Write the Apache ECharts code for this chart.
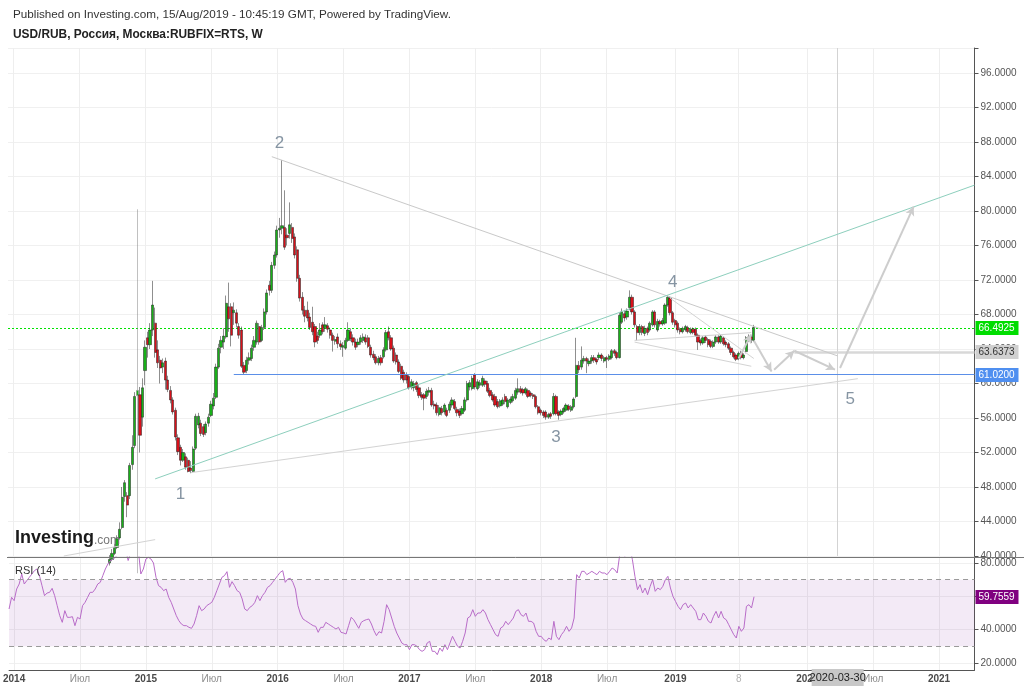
<!DOCTYPE html>
<html><head><meta charset="utf-8">
<script src="https://cdn.jsdelivr.net/npm/echarts@6/dist/echarts.min.js"></script>
<style>html,body{margin:0;padding:0;background:#fff}#c{width:1024px;height:690px}</style>
</head><body><div id="c"></div>
<script>
// ---------- categories (weekly bars, Monday dates) ----------
const START_UTC = Date.UTC(2013, 11, 23);
const WEEKS = 382;
const cats = [];
for (let k = 0; k < WEEKS; k++) cats.push(new Date(START_UTC + k * 7 * 864e5).toISOString().slice(0, 10));

// ---------- tick labels ----------
const tickDates = ['2014-01-06','2014-07-07','2015-01-05','2015-07-06','2016-01-04','2016-07-04','2017-01-02','2017-07-03','2018-01-01','2018-07-02','2019-01-07','2019-07-01','2020-01-06','2020-07-06','2021-01-04'];
const tickLabels = ['2014','Июл','2015','Июл','2016','Июл','2017','Июл','2018','Июл','2019','8','2020','Июл','2021'];
const priceStep = 4;
const rsiTicks = [20, 40, 60, 80];

// ---------- weekly candles, first bar = week index 40 (2014-09-29) ----------
const FIRST_BAR = 40;
const opens = [
 39.2,39.6,40.3,41.0,42.1,43.3,46.9,47.0,47.0,50.6,
 52.8,58.6,58.7,56.1,61.5,65.3,64.5,66.2,67.0,63.9,
 62.7,61.9,62.6,60.4,59.2,58.1,56.9,53.7,52.6,51.1,
 51.5,51.1,50.2,49.8,52.5,55.2,55.4,55.0,54.3,55.4,
 56.3,57.4,58.4,61.9,64.2,64.8,65.4,68.9,68.9,68.2,
 68.2,66.6,66.2,62.1,61.5,62.7,62.9,64.2,64.8,66.6,
 65.0,66.5,68.3,71.4,70.8,73.7,74.9,77.8,78.0,78.1,
 77.2,77.4,78.1,77.0,75.5,72.2,70.0,68.5,68.5,67.7,
 67.1,66.6,65.5,65.6,66.8,66.5,66.7,66.2,65.6,64.9,
 65.4,64.6,64.2,64.1,65.0,66.0,65.3,64.8,64.5,64.8,
 65.0,65.3,65.3,64.2,63.4,63.1,62.4,63.0,63.1,63.9,
 66.0,65.3,64.1,63.3,62.5,62.0,61.3,61.0,60.8,59.6,
 59.5,60.1,59.5,58.7,58.7,58.5,59.0,59.2,57.6,57.5,
 56.4,57.1,56.7,56.9,56.9,57.5,57.9,57.0,56.8,56.5,
 56.9,58.1,59.6,59.4,61.0,59.4,59.8,59.8,60.3,60.0,
 59.2,58.7,58.5,57.9,57.4,57.6,58.5,57.3,57.8,58.0,
 58.3,59.0,59.4,59.3,58.9,59.2,58.9,58.7,58.5,57.3,
 56.9,56.7,56.7,56.1,56.5,56.5,58.5,56.7,56.4,56.7,
 56.9,57.4,56.9,57.3,58.5,62.1,61.9,62.6,62.9,62.3,
 62.6,63.0,62.8,63.0,63.3,62.6,63.0,62.8,63.0,63.8,
 63.6,63.0,67.1,68.1,67.7,68.8,70.0,68.3,66.6,65.9,
 66.6,65.8,66.4,66.2,66.8,68.3,66.2,67.2,66.9,67.0,
 69.1,69.9,68.2,67.3,67.0,66.3,66.0,66.2,66.5,65.9,
 66.3,66.3,65.6,65.0,64.7,65.4,65.1,64.9,64.3,64.8,
 65.4,64.8,65.3,64.8,64.6,64.1,63.6,63.3,62.9,63.6,
 63.0,63.7,65.1,65.4,65.0
];
const closes = [
 39.6,40.3,41.0,42.0,43.1,46.8,48.5,45.9,50.5,52.6,
 58.5,59.2,54.0,59.5,64.2,64.5,66.2,69.1,63.6,62.4,
 61.8,62.4,60.4,59.3,58.1,56.7,53.8,52.1,51.1,52.0,
 50.3,49.8,49.9,52.4,56.2,56.2,54.2,54.1,55.3,56.1,
 57.6,58.3,61.9,64.1,65.0,65.5,69.3,67.5,65.6,68.5,
 67.0,65.6,62.0,61.3,62.7,63.0,64.1,65.0,67.0,64.8,
 66.5,68.3,70.5,70.8,73.7,74.9,77.8,78.0,78.3,75.8,
 76.9,78.4,76.8,74.9,72.2,69.9,68.5,67.8,67.6,66.5,
 66.0,64.8,65.0,66.2,66.0,66.8,66.3,65.6,65.0,65.1,
 64.6,64.3,64.4,65.0,66.2,65.2,64.8,64.2,64.8,65.3,
 65.4,64.8,64.3,63.3,63.0,62.4,62.9,62.4,63.9,65.9,
 65.3,64.0,62.6,62.5,61.4,60.6,60.4,60.4,59.5,60.2,
 60.0,59.3,58.6,58.4,58.3,59.1,59.2,57.5,57.4,56.6,
 57.2,56.6,57.5,56.3,57.6,58.1,57.1,56.6,56.3,57.1,
 58.1,60.0,60.1,60.6,59.6,60.2,60.1,60.6,59.9,59.1,
 58.6,58.1,57.5,57.3,58.0,58.1,57.9,58.1,58.2,58.5,
 59.2,59.4,59.0,58.9,59.4,58.5,58.6,58.5,57.3,56.6,
 56.6,56.3,56.1,56.4,56.2,58.5,56.5,56.3,56.8,57.1,
 57.5,57.0,57.3,58.2,62.1,61.6,62.7,62.9,62.6,62.6,
 63.0,62.7,62.5,63.3,62.9,63.0,62.8,63.2,63.8,63.5,
 63.0,67.9,68.3,67.6,68.4,70.0,68.3,66.8,65.9,66.6,
 65.9,66.4,65.9,67.0,68.3,66.8,67.2,66.9,67.3,69.1,
 70.0,68.2,67.1,66.8,66.2,66.0,66.4,66.6,66.0,66.3,
 65.9,65.6,64.8,64.7,65.3,65.0,64.5,64.3,64.8,65.4,
 64.8,65.5,64.6,64.5,64.1,63.6,63.1,62.8,63.5,63.0,
 63.3,65.3,65.4,65.1,66.4925
];
const lows = [
 38.9,39.4,40.1,40.8,41.9,43.1,46.3,44.5,46.6,50.0,
 52.5,38.0,52.0,55.0,59.8,63.0,64.0,65.5,63.0,61.8,
 60.0,61.2,59.3,59.0,57.7,56.4,53.4,51.7,50.5,50.9,
 50.0,49.7,49.6,49.7,52.3,54.8,53.9,53.8,54.0,55.0,
 56.1,57.0,58.2,61.7,63.5,64.0,65.2,66.0,64.3,66.8,
 66.5,65.2,61.8,61.1,61.2,62.2,62.6,63.8,64.5,64.5,
 64.8,66.2,68.0,70.2,70.5,73.3,74.6,76.9,77.3,75.5,
 76.0,76.8,76.3,74.5,71.8,69.5,68.0,67.1,67.2,66.2,
 65.6,64.2,64.6,65.3,65.7,66.0,65.9,65.2,63.7,64.5,
 64.1,63.9,63.1,63.9,64.8,64.9,64.4,63.9,64.2,64.5,
 64.7,64.5,64.1,63.0,62.7,62.2,62.1,62.1,62.9,63.7,
 65.0,63.8,62.4,62.2,61.2,60.4,60.1,60.0,59.3,59.3,
 59.1,59.0,58.3,58.1,56.9,58.2,58.6,57.3,57.0,56.3,
 56.2,56.3,56.4,56.1,56.6,57.2,56.9,56.2,56.0,56.3,
 56.7,57.9,59.2,59.2,59.3,59.2,59.5,59.6,59.6,58.9,
 58.4,57.9,57.3,57.1,57.2,57.4,57.6,57.1,57.6,57.8,
 58.1,58.7,58.8,58.6,58.7,58.3,58.4,58.2,57.1,56.4,
 56.3,56.0,55.8,55.9,55.9,56.3,56.3,55.8,56.2,56.5,
 56.7,56.8,56.7,57.1,58.3,61.2,61.6,62.3,61.2,62.0,
 62.3,62.4,62.2,62.7,62.6,62.4,61.8,62.6,62.8,63.2,
 62.8,62.9,66.9,67.2,67.4,68.5,68.0,66.5,65.0,65.6,
 65.6,65.5,65.6,66.0,66.6,66.5,66.0,66.6,66.7,66.8,
 68.9,67.9,66.8,66.5,65.9,65.7,65.8,66.0,65.8,65.7,
 65.7,65.4,63.9,64.4,64.5,64.7,64.2,64.1,64.1,64.6,
 64.6,64.6,64.4,64.2,63.9,63.3,62.9,62.6,62.7,62.8,
 62.8,63.5,64.8,64.7,64.8
];
const highs = [
 40.1,40.8,41.4,42.4,43.9,48.0,48.8,47.4,50.8,54.0,
 59.0,80.2,59.6,60.6,65.0,66.0,67.0,71.9,68.8,65.0,
 63.2,62.9,63.0,60.9,59.7,58.4,57.2,54.1,52.9,52.4,
 51.9,51.4,51.0,52.7,56.5,56.6,55.8,55.3,55.6,56.5,
 58.0,58.9,62.3,64.6,65.5,66.4,70.2,71.7,69.3,69.4,
 68.6,67.0,66.6,62.5,63.1,63.6,64.5,65.5,67.3,67.0,
 66.8,68.7,70.9,71.9,74.1,75.3,78.3,79.2,85.9,82.4,
 78.0,81.0,78.6,77.4,75.9,72.6,70.6,69.0,69.5,68.2,
 68.9,66.9,66.0,67.0,67.1,67.7,67.0,66.5,65.9,65.5,
 65.8,65.0,64.8,65.3,67.1,66.4,65.7,65.2,65.2,65.6,
 65.8,65.7,65.6,64.5,63.8,63.4,63.2,63.3,64.2,66.2,
 66.6,65.6,64.4,63.6,62.8,62.3,61.6,61.3,61.0,60.5,
 60.3,60.3,59.8,59.0,58.9,59.4,59.6,59.5,58.0,57.8,
 57.5,57.4,57.7,57.2,57.9,58.4,58.2,57.3,57.1,57.4,
 58.4,60.3,60.4,60.9,61.2,60.5,60.4,60.9,60.6,60.3,
 59.5,59.0,58.8,58.2,58.2,58.4,58.8,58.3,58.5,58.8,
 59.5,60.6,59.7,59.5,59.6,59.4,59.1,58.9,58.7,57.5,
 57.1,56.9,56.9,56.6,56.7,58.9,58.7,56.9,57.0,57.3,
 57.7,57.6,57.5,58.4,65.3,62.6,64.3,63.2,63.1,62.9,
 63.3,63.3,63.0,63.6,63.5,63.2,63.2,63.4,64.0,64.0,
 63.8,68.2,68.7,68.4,68.7,70.8,70.3,68.5,66.8,66.9,
 66.8,66.7,66.6,67.2,68.5,68.5,67.5,67.4,67.6,69.3,
 70.2,70.1,68.4,67.5,67.2,66.5,66.6,66.8,66.7,66.5,
 66.5,66.5,65.8,65.2,65.5,65.6,65.3,65.1,65.0,65.6,
 65.6,65.7,65.5,65.0,64.8,64.3,63.8,63.5,63.7,63.8,
 63.5,65.5,65.7,65.6,66.8
];

// ---------- RSI(14), week index 0..294 ----------
const rsi = [
 52.4,59.4,57.4,64.4,67.4,73.4,67.4,69.4,71.4,73.4,
 75.4,76.4,72.4,66.4,60.4,62.0,62.4,64.8,60.4,54.4,
 48.4,44.4,51.4,47.4,47.4,47.8,42.4,47.4,46.4,54.4,
 56.4,59.4,62.4,62.4,64.4,67.4,68.4,72.4,76.4,79.4,
 81.4,82.4,83.4,85.5,87.0,89.0,88.0,81.5,86.0,88.0,
 89.0,88.0,73.4,76.4,82.4,83.4,82.4,80.0,71.4,66.4,
 65.4,63.4,64.4,59.4,56.4,52.4,48.4,45.4,43.4,42.4,
 42.4,41.4,40.8,43.4,48.4,54.4,51.4,52.4,54.4,55.4,
 56.4,59.4,63.4,67.4,71.4,72.4,74.8,65.4,68.8,66.4,
 63.4,62.4,58.4,52.4,51.4,53.4,54.4,56.4,60.4,57.4,
 60.4,62.4,65.4,66.4,68.4,70.4,72.4,74.4,75.4,68.4,
 70.4,70.8,68.4,64.4,54.4,49.4,46.4,45.4,44.4,43.4,
 42.4,42.0,38.4,41.4,41.4,44.4,43.4,42.4,41.4,40.4,
 41.4,38.4,38.0,37.4,42.4,47.4,46.0,43.4,40.8,44.4,
 45.4,46.0,46.4,43.4,39.4,36.4,38.8,
 38,45,55,52,47,42,38,35,32,31,
 31,28,31,31,30,28,27,28,32,33,
 27,27,25,29,27,31,28,32,36,33,
 30,29,33,38,47,48,52,48,50,50,
 52,50,46,43,40,37,36,41,42,45,
 43,45,47,51,52,49,48,50,45,45,
 44,39,36,36,34,33,35,34,45,36,
 34,37,39,42,39,41,47,73,71,75,
 75,73,74,75,74,73,75,74,74,73,
 75,77,76,74,85,88,84,87,89,82,
 72,64,67,62,65,61,66,70,63,65,
 64,66,70,72,65,60,57,54,52,55,
 56,53,55,53,51,46,46,50,48,45,
 44,48,51,47,51,47,46,43,40,37,
 35,42,39,41,54,55,53,59.7559
];

// ---------- levels & drawings (week index, price) ----------
const lastPrice = 66.4925;
const rsiLast = 59.7559;
const blueLevel = 61.02;
const grayLevel = 63.6373;
const blueFrom = 89, grayFrom = 310, endIdx = 381;
const markerDate = '2020-03-30';
const lineStarts = [[104,86.3],[58,48.94],[72,49.66],[22,40.0],[247,65.0],[247,64.8],[261,69.9]];
const lineEnds   = [[327,63.2],[381,83.0],[335,60.56],[58,41.9],[293,65.9],[293,62.0],[294,62.9]];
const arrowStarts = [[294,65.0],[302,61.6],[310,63.8],[328,61.8],[288,62.9]];
const arrowEnds   = [[301,61.4],[310,63.8],[326,61.6],[357,80.5],[293,65.7]];
const waveNames = ['1','2','3','4','5'];
const waveIdx = [68,107,216,262,332];
const wavePrice = [47.2,87.9,53.8,71.7,58.2];

// ---------- build ----------
const FONT = '"Liberation Sans", Arial, Helvetica, sans-serif';
const tickSet = new Set(tickDates);
const lineColors = ['#c9c9c9','#8dcfbd','#d3d3d3','#d3d3d3','#d0d0d0','#d3d3d3','#d3d3d3'];

const candleData = opens.map((o, i) => {
  const item = { value: [cats[FIRST_BAR + i], o, closes[i], lows[i], highs[i]] };
  if (highs[i] - Math.max(o, closes[i]) > 15) item.itemStyle = { borderColor: '#808080', borderColor0: '#808080' };
  return item;
});

const mlData = [];
mlData.push({ xAxis: markerDate, lineStyle: { color: '#d3d3d3', type: 'solid', width: 1 }, label: { show: false } });
mlData.push([{ coord: [cats[blueFrom], blueLevel], lineStyle: { color: '#5b8fe8', type: 'solid', width: 1 }, label: { show: false } }, { coord: [cats[endIdx], blueLevel] }]);
mlData.push([{ coord: [cats[grayFrom], grayLevel], lineStyle: { color: '#d8d8d8', type: 'solid', width: 2.5 }, label: { show: false } }, { coord: [cats[endIdx], grayLevel] }]);
lineStarts.forEach((s, i) => {
  const e = lineEnds[i];
  mlData.push([{ coord: [cats[s[0]], s[1]], lineStyle: { color: lineColors[i], type: 'solid', width: 1 }, label: { show: false } },
               { coord: [cats[e[0]], e[1]] }]);
});
arrowStarts.forEach((s, i) => {
  const e = arrowEnds[i];
  mlData.push([{ coord: [cats[s[0]], s[1]], symbol: 'none', lineStyle: { color: '#cdcdcd', type: 'solid', width: 2 }, label: { show: false } },
               { coord: [cats[e[0]], e[1]], symbol: 'arrow', symbolSize: [7, 9] }]);
});

const chart = echarts.init(document.getElementById('c'));
const option = {
  animation: false,
  backgroundColor: '#ffffff',
  textStyle: { fontFamily: FONT },
  grid: [
    { left: 8, right: 49.5, top: 48, height: 508 },
    { left: 8, right: 49.5, top: 557, height: 113 }
  ],
  xAxis: [
    { type: 'category', gridIndex: 0, data: cats, boundaryGap: false,
      axisLine: { show: false }, axisTick: { show: false }, axisLabel: { show: false },
      splitLine: { show: true, interval: (i, v) => tickSet.has(v), lineStyle: { color: '#eeeeee' } } },
    { type: 'category', gridIndex: 1, data: cats, boundaryGap: false,
      axisLine: { show: true, lineStyle: { color: '#555' } }, axisTick: { show: false },
      axisLabel: {
        interval: (i, v) => tickSet.has(v), margin: 4,
        formatter: (v) => {
          const s = tickLabels[tickDates.indexOf(v)];
          if (/^\d{4}$/.test(s)) return '{y|' + s + '}';
          if (s === '8') return '{d|' + s + '}';
          return '{m|' + s + '}';
        },
        rich: {
          y: { color: '#4a4a4a', fontWeight: 'bold', fontSize: 10, fontFamily: FONT },
          m: { color: '#8c8c8c', fontSize: 10, fontFamily: FONT },
          d: { color: '#b4b4b4', fontSize: 10, fontFamily: FONT }
        }
      },
      splitLine: { show: true, interval: (i, v) => tickSet.has(v), lineStyle: { color: '#eeeeee' } } }
  ],
  yAxis: [
    { type: 'value', gridIndex: 0, position: 'right', min: 40, max: 98.9, interval: priceStep,
      axisLine: { show: true, lineStyle: { color: '#555' } },
      axisTick: { show: true, length: 4, lineStyle: { color: '#555' } },
      axisLabel: { color: '#555', fontSize: 10, margin: 6,
        formatter: (v) => (Math.abs(v % priceStep) < 1e-6 ? v.toFixed(4) : '') },
      splitLine: { show: true, lineStyle: { color: '#f0f0f0' } } },
    { type: 'value', gridIndex: 1, position: 'right', min: 15.8, max: 83.6,
      axisLine: { show: true, lineStyle: { color: '#555' } },
      axisTick: { show: true, length: 4, lineStyle: { color: '#555' }, customValues: rsiTicks },
      axisLabel: { color: '#555', fontSize: 10, margin: 6, customValues: rsiTicks, formatter: (v) => v.toFixed(4) },
      splitLine: { show: true, lineStyle: { color: '#f0f0f0' } } }
  ],
  series: [
    { type: 'candlestick', name: 'USD/RUB', xAxisIndex: 0, yAxisIndex: 0,
      data: candleData, encode: { x: 0, y: [1, 2, 3, 4] },
      barWidth: 2.7,
      itemStyle: { color: '#18b018', color0: '#d8101a', borderColor: '#1e1e1e', borderColor0: '#1e1e1e', borderWidth: 0.5 },
      markLine: { silent: true, animation: false, symbol: ['none', 'none'], data: mlData }
    },
    { type: 'scatter', name: 'waves', xAxisIndex: 0, yAxisIndex: 0, silent: true,
      symbol: 'circle', symbolSize: 1, itemStyle: { color: 'rgba(0,0,0,0)' },
      data: waveNames.map((n, i) => ({ name: n, value: [cats[waveIdx[i]], wavePrice[i]] })),
      label: { show: true, position: 'inside', formatter: '{b}', fontSize: 17, color: '#687a8c', fontFamily: FONT }
    },
    { type: 'line', name: 'RSI (14)', xAxisIndex: 1, yAxisIndex: 1,
      data: rsi.map((v, i) => [cats[i], v]), symbol: 'none',
      lineStyle: { color: '#b86cc8', width: 1 },
      markArea: { silent: true, itemStyle: { color: 'rgba(150,60,175,0.11)' }, data: [[{ yAxis: 30 }, { yAxis: 70 }]] },
      markLine: { silent: true, animation: false, symbol: ['none', 'none'], data: [
        { yAxis: 70, lineStyle: { color: '#9a9a9a', type: [5, 4], width: 1 }, label: { show: false } },
        { yAxis: 30, lineStyle: { color: '#9a9a9a', type: [5, 4], width: 1 }, label: { show: false } }
      ] }
    }
  ],
  graphic: [
    { type: 'text', left: 13, top: 9, z: 100, style: { text: 'Published on Investing.com, 15/Aug/2019 - 10:45:19 GMT, Powered by TradingView.', font: '11.7px ' + FONT, fill: '#333' } },
    { type: 'text', left: 13, top: 29, z: 100, style: { text: 'USD/RUB, Россия, Москва:RUBFIX=RTS, W', font: 'bold 11.9px ' + FONT, fill: '#222' } },
    { type: 'line', z: 100, shape: { x1: 7, y1: 557.5, x2: 1024, y2: 557.5 }, style: { stroke: '#777', lineWidth: 1 } },
    { type: 'text', left: 15, top: 565, z: 100, style: { text: 'RSI (14)', font: '11px ' + FONT, fill: '#333' } },
    { type: 'text', left: 15, top: 529, z: 100, style: { text: '{a|Investing}{b|.com}',
      rich: { a: { font: 'bold 18px ' + FONT, fill: '#1a1a1a' }, b: { font: '12px ' + FONT, fill: '#777', padding: [5, 0, 0, 0] } } } }
  ]
};
chart.setOption(option);

// last-price dotted line, value boxes on the price / RSI scales and the date box on the time scale
const gridLeft = chart.convertToPixel({ xAxisIndex: 0 }, cats[0]);
const gridRight = chart.convertToPixel({ xAxisIndex: 0 }, cats[WEEKS - 1]);
const lastY = Math.round(chart.convertToPixel({ yAxisIndex: 0 }, lastPrice)) + 0.5;
const boxX = gridRight + 1;
function valueBox(id, yPix, text, bg, fg) {
  return [
    { type: 'rect', id: id + 'r', z: 120, shape: { x: boxX, y: Math.round(yPix) - 7, width: 43, height: 14 }, style: { fill: bg } },
    { type: 'text', id: id + 't', z: 121, x: boxX + 3, y: Math.round(yPix), style: { text: text, font: '10px ' + FONT, fill: fg, verticalAlign: 'middle' } }
  ];
}
const mx = chart.convertToPixel({ xAxisIndex: 1 }, markerDate);
chart.setOption({ graphic: [].concat(
  [{ type: 'line', id: 'lastline', z: 1, silent: true, shape: { x1: gridLeft, y1: lastY, x2: gridRight, y2: lastY },
     style: { stroke: '#00e400', lineWidth: 1, lineDash: [2, 2] } }],
  valueBox('last', chart.convertToPixel({ yAxisIndex: 0 }, lastPrice), lastPrice.toFixed(4), '#00dd00', '#fff'),
  valueBox('gray', chart.convertToPixel({ yAxisIndex: 0 }, grayLevel), grayLevel.toFixed(4), '#d0d0d0', '#333'),
  valueBox('blue', chart.convertToPixel({ yAxisIndex: 0 }, blueLevel), blueLevel.toFixed(4), '#4f8ff0', '#fff'),
  valueBox('rsi', chart.convertToPixel({ yAxisIndex: 1 }, rsiLast), rsiLast.toFixed(4), '#800080', '#fff'),
  [
    { type: 'rect', id: 'mkbox', z: 110, shape: { x: mx - 26, y: 669, width: 52, height: 17 }, style: { fill: '#c8c8c8' } },
    { type: 'text', id: 'mktext', z: 111, x: mx, y: 677.5, style: { text: markerDate, font: '11px ' + FONT, fill: '#222', align: 'center', verticalAlign: 'middle' } }
  ]
) });
</script>
</body></html>
